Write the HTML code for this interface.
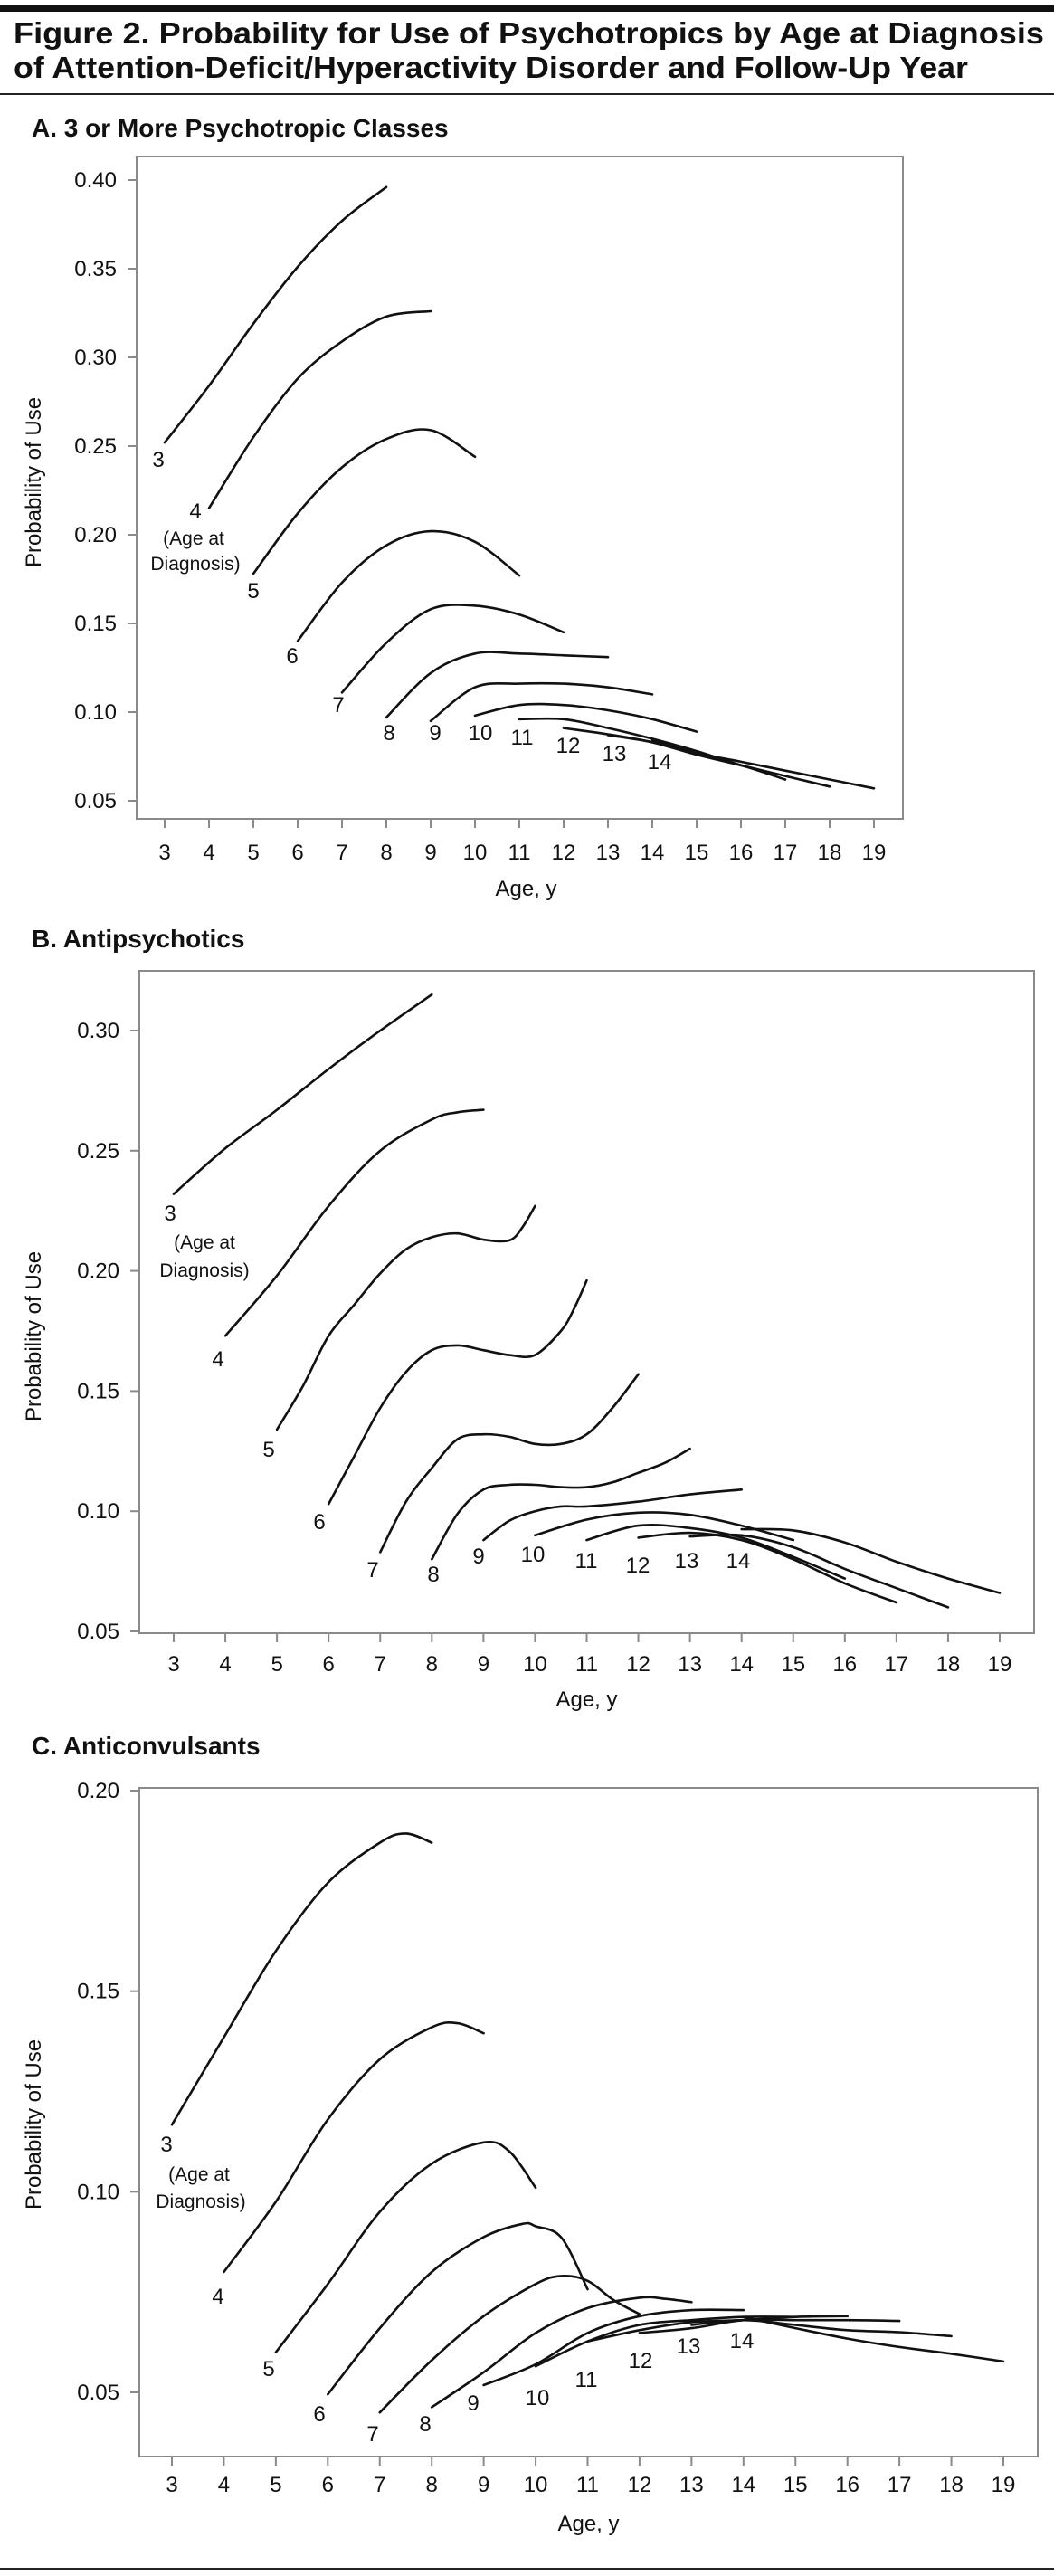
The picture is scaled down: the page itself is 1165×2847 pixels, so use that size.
<!DOCTYPE html>
<html><head><meta charset="utf-8"><style>
html,body{margin:0;padding:0;background:#fff}
svg{display:block}
text{font-family:"Liberation Sans",sans-serif;fill:#111}
</style></head><body>
<svg id="fig" width="1165" height="2847" viewBox="0 0 1165 2847" xmlns="http://www.w3.org/2000/svg">
<rect x="0" y="5" width="1165" height="8" fill="#111"/>
<text x="15" y="48" font-size="33" font-weight="bold" textLength="1139" lengthAdjust="spacingAndGlyphs">Figure 2. Probability for Use of Psychotropics by Age at Diagnosis</text>
<text x="15" y="86" font-size="33" font-weight="bold" textLength="1055" lengthAdjust="spacingAndGlyphs">of Attention-Deficit/Hyperactivity Disorder and Follow-Up Year</text>
<rect x="0" y="103" width="1165" height="2" fill="#222"/>
<rect x="0" y="2838" width="1165" height="2" fill="#222"/>
<g id="panels"></g>
</svg>
<script>
// ---------- Panel A data: 3 or More Psychotropic Classes ----------
const aDiagAges = [3,4,5,6,7,8,9,10,11,12,13,14];
const aAges = [
 [3,4,5,6,7,8],[4,5,6,7,8,9],[5,6,7,8,9,10],[6,7,8,9,10,11],[7,8,9,10,11,12],[8,9,10,11,12,13],
 [9,10,11,12,13,14],[10,11,12,13,14,15],[11,12,13,14,15,16],[12,13,14,15,16,17],[13,14,15,16,17,18],[14,15,16,17,18,19]];
const aValues = [
 [0.252,0.284,0.319,0.351,0.377,0.396],
 [0.215,0.255,0.288,0.309,0.323,0.326],
 [0.178,0.212,0.238,0.254,0.259,0.244],
 [0.140,0.173,0.194,0.202,0.196,0.177],
 [0.111,0.139,0.158,0.160,0.155,0.145],
 [0.097,0.122,0.133,0.133,0.132,0.131],
 [0.095,0.114,0.116,0.116,0.114,0.110],
 [0.098,0.104,0.104,0.101,0.096,0.089],
 [0.096,0.096,0.091,0.085,0.078,0.070],
 [0.091,0.0875,0.083,0.076,0.070,0.062],
 [0.087,0.083,0.076,0.070,0.064,0.058],
 [0.084,0.077,0.072,0.067,0.062,0.057]];
const aYTicks = [0.40,0.35,0.30,0.25,0.20,0.15,0.10,0.05];
const aYTickLabels = ["0.40","0.35","0.30","0.25","0.20","0.15","0.10","0.05"];

// ---------- Panel B data: Antipsychotics ----------
const bDiagAges = [3,4,5,6,7,8,9,10,11,12,13,14];
const bAges = [
 [3,4,5,6,7,8],
 [4,5,6,7,8,8.5,9],
 [5,5.5,6,6.5,7,7.5,8,8.5,9,9.5,9.75,10],
 [6,6.5,7,7.5,8,8.5,9,9.5,10,10.5,10.75,11],
 [7,7.5,8,8.5,9,9.5,10,10.5,11,11.5,12],
 [8,8.5,9,9.5,10,10.5,11,11.5,12,12.5,13],
 [9,9.5,10,10.5,11,12,13,14],
 [10,11,12,13,14,15],[11,12,13,14,15,16],[12,13,14,15,16,17],[13,14,15,16,17,18],[14,15,16,17,18,19]];
const bValues = [
 [0.232,0.251,0.267,0.284,0.300,0.315],
 [0.173,0.198,0.227,0.250,0.263,0.266,0.267],
 [0.134,0.152,0.173,0.186,0.199,0.209,0.214,0.2156,0.213,0.2127,0.218,0.227],
 [0.103,0.123,0.143,0.158,0.167,0.169,0.167,0.165,0.165,0.175,0.184,0.196],
 [0.083,0.104,0.118,0.130,0.132,0.131,0.128,0.128,0.132,0.143,0.157],
 [0.080,0.099,0.109,0.111,0.111,0.110,0.110,0.112,0.116,0.120,0.126],
 [0.088,0.096,0.100,0.102,0.102,0.104,0.107,0.109],
 [0.090,0.0965,0.0994,0.0985,0.094,0.088],
 [0.088,0.094,0.093,0.089,0.081,0.072],
 [0.089,0.091,0.088,0.080,0.070,0.062],
 [0.0895,0.090,0.085,0.076,0.068,0.060],
 [0.0925,0.092,0.087,0.079,0.072,0.066]];
const bYTicks = [0.30,0.25,0.20,0.15,0.10,0.05];
const bYTickLabels = ["0.30","0.25","0.20","0.15","0.10","0.05"];

// ---------- Panel C data: Anticonvulsants ----------
const cDiagAges = [3,4,5,6,7,8,9,10,11,12,13,14];
const cAges = [
 [3,4,5,6,7,7.5,8],
 [4,5,6,7,8,8.5,9],
 [5,6,7,8,9,9.5,10],
 [6,7,8,9,9.75,10,10.5,11],
 [7,8,9,10,10.5,11,11.5,12],
 [8,9,10,11,12,12.5,13],
 [9,10,11,12,13,14],[10,11,12,13,14,15],[11,12,13,14,15,16],[12,13,14,15,16,17],[13,14,15,16,17,18],[14,15,16,17,18,19]];
const cValues = [
 [0.1167,0.1385,0.160,0.177,0.187,0.1893,0.187],
 [0.080,0.0975,0.118,0.133,0.141,0.142,0.1395],
 [0.060,0.077,0.095,0.107,0.1123,0.110,0.101],
 [0.0495,0.066,0.080,0.0887,0.092,0.0914,0.0885,0.0757],
 [0.045,0.058,0.069,0.077,0.079,0.0778,0.073,0.0695],
 [0.0463,0.055,0.0648,0.071,0.0736,0.0733,0.0725],
 [0.0518,0.057,0.0648,0.069,0.0705,0.0705],
 [0.0565,0.0627,0.0668,0.068,0.0688,0.0688],
 [0.0627,0.0655,0.0675,0.068,0.0688,0.069],
 [0.0648,0.066,0.068,0.068,0.068,0.0678],
 [0.0668,0.068,0.0668,0.0655,0.065,0.064],
 [0.0688,0.066,0.0634,0.0613,0.0596,0.0577]];
const cYTicks = [0.20,0.15,0.10,0.05];
const cYTickLabels = ["0.20","0.15","0.10","0.05"];

const xTicks = [3,4,5,6,7,8,9,10,11,12,13,14,15,16,17,18,19];

const NS = "http://www.w3.org/2000/svg";
function mk(tag, attrs, parent){
  const e = document.createElementNS(NS, tag);
  for (const k in attrs) e.setAttribute(k, attrs[k]);
  parent.appendChild(e);
  return e;
}
function smoothPath(pts){
  let d = "M" + pts[0][0].toFixed(1) + "," + pts[0][1].toFixed(1);
  for (let i = 0; i < pts.length - 1; i++){
    const p0 = pts[i-1] || pts[i], p1 = pts[i], p2 = pts[i+1], p3 = pts[i+2] || p2;
    const c1 = [p1[0] + (p2[0]-p0[0])/6, p1[1] + (p2[1]-p0[1])/6];
    const c2 = [p2[0] - (p3[0]-p1[0])/6, p2[1] - (p3[1]-p1[1])/6];
    d += " C" + c1[0].toFixed(1) + "," + c1[1].toFixed(1) + " " + c2[0].toFixed(1) + "," + c2[1].toFixed(1) + " " + p2[0].toFixed(1) + "," + p2[1].toFixed(1);
  }
  return d;
}

const root = document.getElementById("panels");

function panel(cfg){
  const g = mk("g", {}, root);
  
  
  const xS = v => cfg.x0 + (v - 3) * (cfg.x19 - cfg.x0) / 16;
  const yS = v => cfg.yTop + (cfg.vTop - v) * (cfg.yBot - cfg.yTop) / (cfg.vTop - cfg.vBot);

  const t = mk("text", {x: 35, y: cfg.titleY, "font-size": 28, "font-weight": "bold"}, g);
  t.textContent = cfg.title;
  
  

  const fr = mk("rect", {x: cfg.L, y: cfg.T, width: cfg.R - cfg.L, height: cfg.B - cfg.T, fill: "none", stroke: "#8a8a8a", "stroke-width": 2}, g);
  
  

  cfg.yTicks.forEach((v, i) => {
    const y = yS(v);
    const tk = mk("line", {x1: cfg.L - 10, x2: cfg.L, y1: y, y2: y, stroke: "#8a8a8a", "stroke-width": 2}, g);
    
    
    const lb = mk("text", {x: cfg.L - 22, y: y + 8, "font-size": 24, "text-anchor": "end"}, g);
    lb.textContent = cfg.yLabels[i];
    
    
  });
  xTicks.forEach(v => {
    const x = xS(v);
    const tk = mk("line", {x1: x, x2: x, y1: cfg.B, y2: cfg.B + 10, stroke: "#8a8a8a", "stroke-width": 2}, g);
    
    
    const lb = mk("text", {x: x, y: cfg.xLabY, "font-size": 24, "text-anchor": "middle"}, g);
    lb.textContent = String(v);
    
    
  });
  const xt = mk("text", {x: (cfg.L + cfg.R) / 2 + (cfg.id === 'panel-a' ? 7 : 0), y: cfg.xTitleY, "font-size": 24, "text-anchor": "middle"}, g);
  xt.textContent = "Age, y";
  
  
  const yt = mk("text", {x: 0, y: 0, "font-size": 24, "text-anchor": "middle", transform: "translate(45," + cfg.yTitleC + ") rotate(-90)"}, g);
  yt.textContent = "Probability of Use";
  
  

  cfg.ages.forEach((ages, i) => {
    const pts = ages.map((a, j) => [xS(a), yS(cfg.values[i][j])]);
    const p = mk("path", {d: smoothPath(pts), fill: "none", stroke: "#111", "stroke-width": 2.6, "stroke-linecap": "round"}, g);
    
    
  });
  cfg.labels.forEach(l => {
    const lb = mk("text", {x: l[1], y: l[2], "font-size": l[3] || 24, "text-anchor": "middle"}, g);
    lb.textContent = l[0];
    
    
  });
}

panel({id: 'panel-a', title: "A. 3 or More Psychotropic Classes", titleY: 151,
  L: 151, T: 173, R: 998, B: 905, x0: 182, x19: 966, yTop: 199, vTop: 0.40, yBot: 885, vBot: 0.05,
  yTicks: aYTicks, yLabels: aYTickLabels, xLabY: 950, xTitleY: 990, yTitleC: 533,
  ages: aAges, values: aValues, diag: aDiagAges,
  labels: [["3",175,516],["4",216,573],["(Age at",214,602,21],["Diagnosis)",216,630,21],["5",280,661],["6",323,733],["7",374,787],["8",430,818],["9",481,818],["10",531,818],["11",577,823],["12",628,832],["13",679,841],["14",729,850]]});

panel({id: 'panel-b', title: "B. Antipsychotics", titleY: 1047,
  L: 154, T: 1073, R: 1143, B: 1805, x0: 192, x19: 1105, yTop: 1139, vTop: 0.30, yBot: 1803, vBot: 0.05,
  yTicks: bYTicks, yLabels: bYTickLabels, xLabY: 1847, xTitleY: 1886, yTitleC: 1477,
  ages: bAges, values: bValues, diag: bDiagAges,
  labels: [["3",188,1349],["(Age at",226,1380,21],["Diagnosis)",226,1411,21],["4",241,1510],["5",297,1610],["6",353,1690],["7",412,1743],["8",479,1748],["9",529,1728],["10",589,1726],["11",648,1733],["12",705,1738],["13",759,1733],["14",816,1733]]});

panel({id: 'panel-c', title: "C. Anticonvulsants", titleY: 1939,
  L: 154, T: 1976, R: 1147, B: 2715, x0: 190, x19: 1109, yTop: 1979, vTop: 0.20, yBot: 2644, vBot: 0.05,
  yTicks: cYTicks, yLabels: cYTickLabels, xLabY: 2754, xTitleY: 2797, yTitleC: 2348,
  ages: cAges, values: cValues, diag: cDiagAges,
  labels: [["3",184,2378],["(Age at",220,2410,21],["Diagnosis)",222,2440,21],["4",241,2546],["5",297,2626],["6",353,2676],["7",412,2698],["8",470,2687],["9",523,2664],["10",594,2658],["11",648,2638],["12",708,2617],["13",761,2601],["14",820,2595]]});
</script>
</body></html>
